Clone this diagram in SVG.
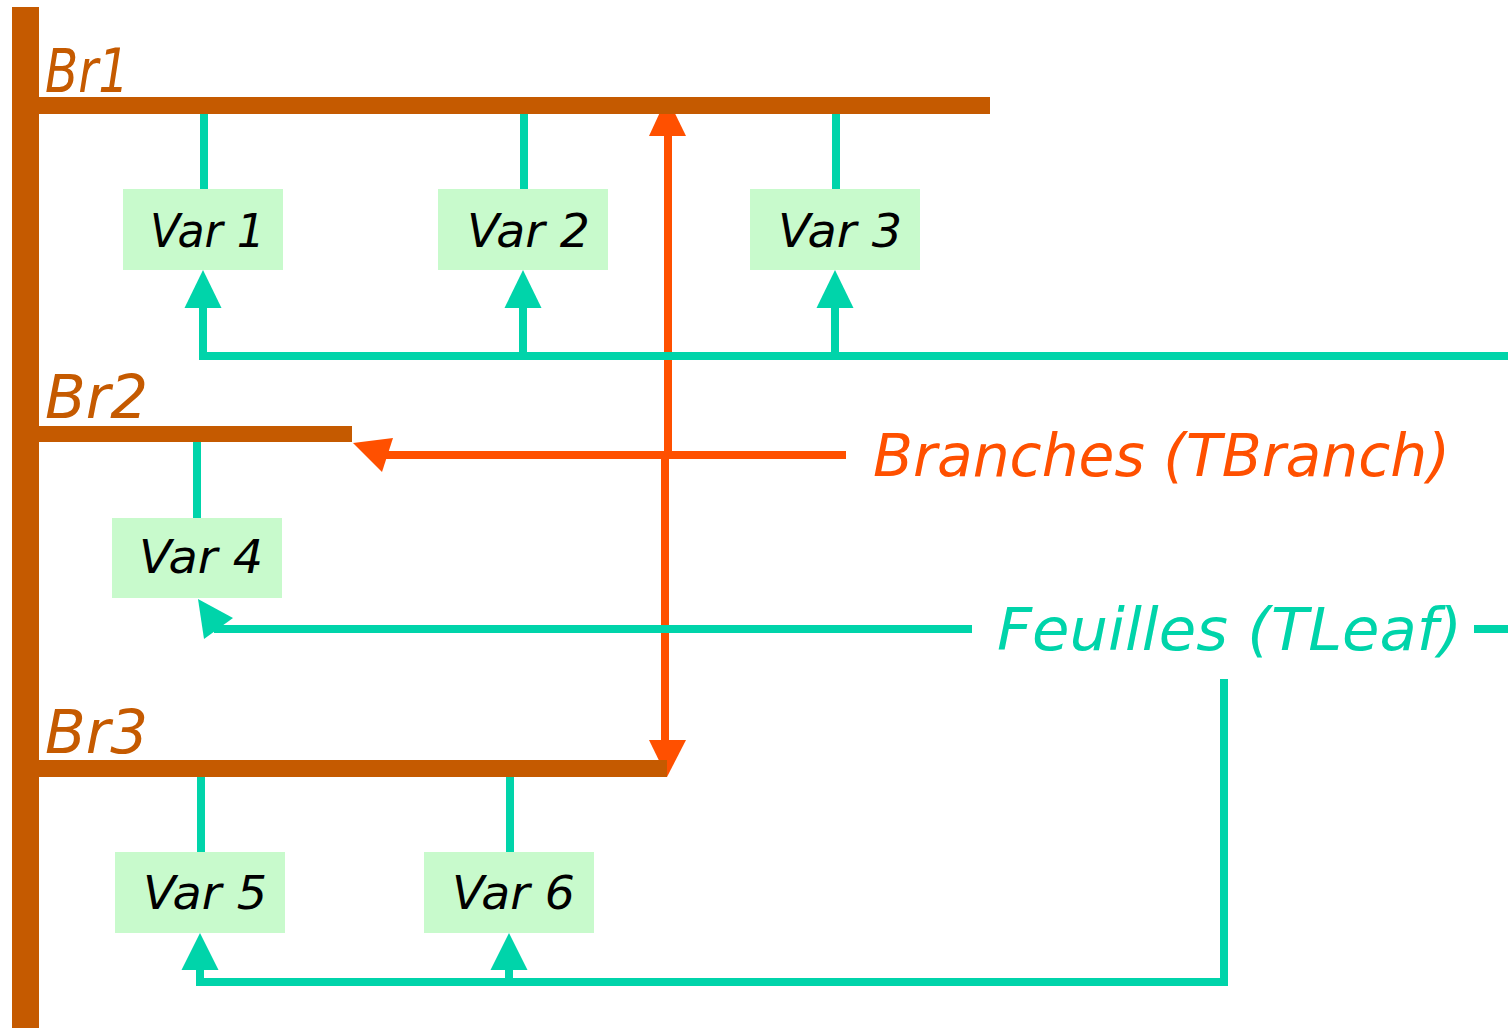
<svg xmlns="http://www.w3.org/2000/svg" width="1508" height="1028" viewBox="0 0 1508 1028">
  <style>
    .bar { fill: #C55A00; }
    .box { fill: #C8FACC; }
    .lbl { font-family: "DejaVu Sans", "Liberation Sans", sans-serif; font-style: italic; }
    .var { font-size: 47px; fill: #000; }
    .br { font-size: 60px; fill: #C55A00; }
    .teal { fill: none; stroke: #00D4AA; stroke-width: 8; stroke-linejoin: miter; stroke-linecap: butt; }
    .red { fill: none; stroke: #FF5000; stroke-width: 8; stroke-linecap: butt; }
    .head-t { fill: #00D4AA; }
    .head-r { fill: #FF5000; }
  </style>

  <rect width="1508" height="1028" fill="#fff"/>

  <g id="connectors">
    <!-- branch arrows (orange) -->
    <line class="red" x1="668" y1="455" x2="668" y2="134"/>
    <line class="red" x1="665" y1="455" x2="665" y2="742"/>
    <polygon class="head-r" points="667,97 686,136 649,136"/>
    <polygon class="head-r" points="667,777 686,740 649,740"/>
    <line class="red" x1="846" y1="455" x2="386" y2="455"/>
    <polygon class="head-r" points="353,443 393,438 382,472"/>

    <!-- leaf arrows (teal) -->
    <path class="teal" d="M203,306 V356 H1508"/>
    <line class="teal" x1="523" y1="356" x2="523" y2="306"/>
    <line class="teal" x1="835" y1="356" x2="835" y2="306"/>
    <polygon class="head-t" points="203,270 221.5,308 184.5,308"/>
    <polygon class="head-t" points="523,270 541.5,308 504.5,308"/>
    <polygon class="head-t" points="835,270 853.5,308 816.5,308"/>

    <line class="teal" x1="972" y1="629" x2="214" y2="629"/>
    <polygon class="head-t" points="198,599 233,618 204,639"/>
    <line class="teal" x1="1474" y1="629" x2="1508" y2="629"/>

    <path class="teal" d="M1224,679 V982 H200 V968"/>
    <line class="teal" x1="509" y1="982" x2="509" y2="968"/>
    <polygon class="head-t" points="200,933 218.5,970 181.5,970"/>
    <polygon class="head-t" points="509,933 527.5,970 490.5,970"/>

    <!-- stems from branches to leaves -->
    <line class="teal" x1="204" y1="114" x2="204" y2="189"/>
    <line class="teal" x1="524" y1="114" x2="524" y2="189"/>
    <line class="teal" x1="836" y1="114" x2="836" y2="189"/>
    <line class="teal" x1="197" y1="442" x2="197" y2="518"/>
    <line class="teal" x1="201" y1="777" x2="201" y2="852"/>
    <line class="teal" x1="510" y1="777" x2="510" y2="852"/>
  </g>

  <g id="tree">
    <rect class="bar" x="12" y="7" width="27" height="1021"/>
  </g>

  <g id="br1">
    <rect class="bar" x="39" y="97" width="951" height="17"/>
    <text class="lbl br" x="45" y="92" textLength="84" lengthAdjust="spacingAndGlyphs">Br1</text>
  </g>
  <g id="br2">
    <rect class="bar" x="39" y="426" width="313" height="16"/>
    <text class="lbl br" x="45" y="418" textLength="103" lengthAdjust="spacingAndGlyphs">Br2</text>
  </g>
  <g id="br3">
    <rect class="bar" x="39" y="760" width="628" height="17"/>
    <text class="lbl br" x="45" y="753" textLength="103" lengthAdjust="spacingAndGlyphs">Br3</text>
  </g>

  <g id="var1">
    <rect class="box" x="123" y="189" width="160" height="81"/>
    <text class="lbl var" x="150" y="247" textLength="115" lengthAdjust="spacingAndGlyphs">Var 1</text>
  </g>
  <g id="var2">
    <rect class="box" x="438" y="189" width="170" height="81"/>
    <text class="lbl var" x="467" y="247" textLength="123" lengthAdjust="spacingAndGlyphs">Var 2</text>
  </g>
  <g id="var3">
    <rect class="box" x="750" y="189" width="170" height="81"/>
    <text class="lbl var" x="778" y="247" textLength="124" lengthAdjust="spacingAndGlyphs">Var 3</text>
  </g>
  <g id="var4">
    <rect class="box" x="112" y="518" width="170" height="80"/>
    <text class="lbl var" x="139" y="573" textLength="124" lengthAdjust="spacingAndGlyphs">Var 4</text>
  </g>
  <g id="var5">
    <rect class="box" x="115" y="852" width="170" height="81"/>
    <text class="lbl var" x="143" y="909" textLength="124" lengthAdjust="spacingAndGlyphs">Var 5</text>
  </g>
  <g id="var6">
    <rect class="box" x="424" y="852" width="170" height="81"/>
    <text class="lbl var" x="452" y="909" textLength="123" lengthAdjust="spacingAndGlyphs">Var 6</text>
  </g>

  <g id="legend-branches">
    <text class="lbl" x="873" y="476" font-size="59" fill="#FF5000" textLength="577" lengthAdjust="spacingAndGlyphs">Branches (TBranch)</text>
  </g>
  <g id="legend-leaves">
    <text class="lbl" x="997" y="650" font-size="58" fill="#00D4AA" textLength="465" lengthAdjust="spacingAndGlyphs">Feuilles (TLeaf)</text>
  </g>
</svg>
